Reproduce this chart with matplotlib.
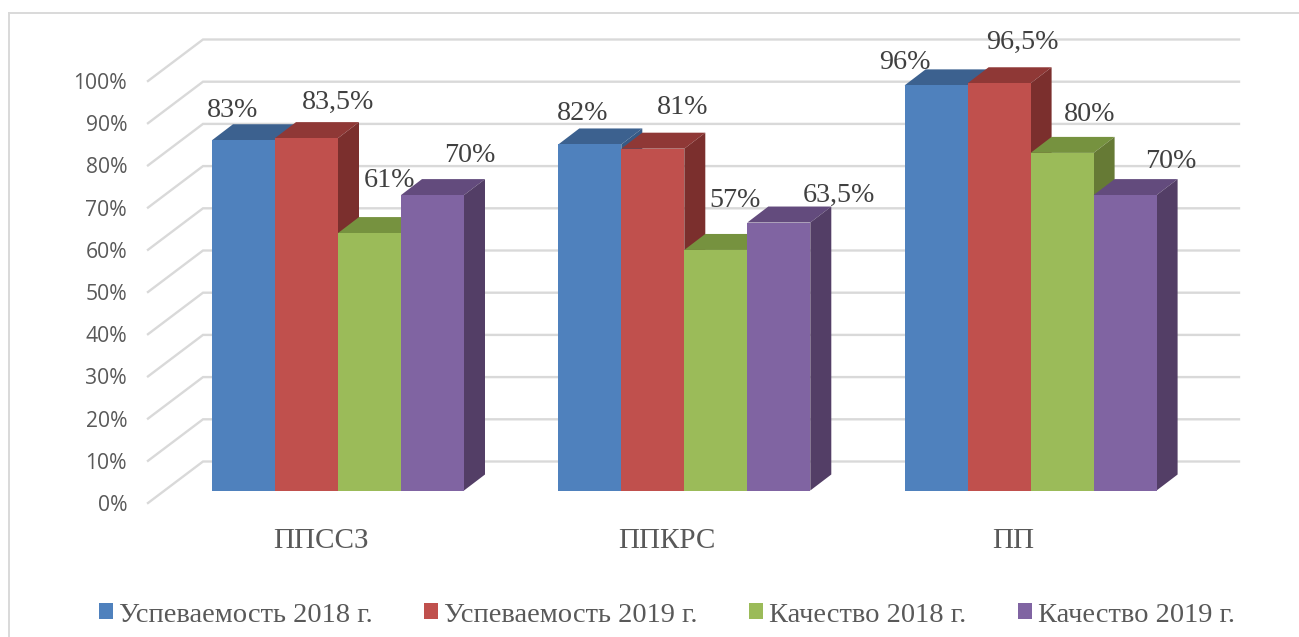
# -*- coding: utf-8 -*-

import matplotlib
matplotlib.use("Agg")
import matplotlib.pyplot as plt
from matplotlib.patches import Polygon, Rectangle

categories = ["ППССЗ", "ППКРС", "ПП"]
series_names = ["Успеваемость 2018 г.", "Успеваемость 2019 г.", "Качество 2018 г.", "Качество 2019 г."]
uspev_2018 = [83, 82, 96]
uspev_2019 = [83.5, 81, 96.5]
kach_2018 = [61, 57, 80]
kach_2019 = [70, 63.5, 70]
value_labels_2018 = ["83%", "82%", "96%"]
value_labels_2019 = ["83,5%", "81%", "96,5%"]
value_labels_k2018 = ["61%", "57%", "80%"]
value_labels_k2019 = ["70%", "63,5%", "70%"]
y_ticks = [0, 10, 20, 30, 40, 50, 60, 70, 80, 90, 100]

# front, top, side colours per series
colors = [("#4F81BD", "#3C618F", "#375A85"),
          ("#C0504D", "#8F3836", "#7B2F2D"),
          ("#9BBB59", "#76923F", "#667A35"),
          ("#8064A2", "#634B7D", "#533E66")]

# hand placed label offsets in pixels from the bar centre top, the source chart has them dragged around
label_offsets = [[(-11, 30), (-7.5, 31), (-31, 23)],
                 [(31.5, 35.6), (29.5, 41), (23, 41)],
                 [(20, 52.6), (19.5, 49.5), (28, 38)],
                 [(37.5, 39.6), (60.5, 27), (46, 33.6)]]

# scale of the picture
GROUP_PX = 346.3
PCT_PX = 4.22
X0_PX = 338
Y0_PX = 490.5
W, H = 1299, 637
px_x = 1 / GROUP_PX
px_y = 1 / PCT_PX
bar_w = 63 * px_x
bar_dx = 21 * px_x
bar_dy = 16 * px_y

fig = plt.figure(figsize=(W / 100, H / 100), dpi=100)
ax = fig.add_axes([0, 0, 1, 1])
ax.set_xlim(-X0_PX * px_x, (W - X0_PX) * px_x)
ax.set_ylim(-(H - Y0_PX) * px_y, Y0_PX * px_y)
ax.axis("off")

# chart frame, cropped on the right and bottom
frame_x = (8.5 - X0_PX) * px_x
frame_y = (Y0_PX - 12.5) * px_y
ax.plot([frame_x, frame_x], [ax.get_ylim()[0], frame_y], color="#D9D9D9", lw=1.4, zorder=1)
ax.plot([frame_x, ax.get_xlim()[1]], [frame_y, frame_y], color="#D9D9D9", lw=1.4, zorder=1)

# walls
front_x = (148 - X0_PX) * px_x
back_x = (203 - X0_PX) * px_x
right_x = (1239 - X0_PX) * px_x
front_dy = -12.5 * px_y
back_dy = 29 * px_y
for v in y_ticks:
    ax.plot([front_x, back_x, right_x], [v + front_dy, v + back_dy, v + back_dy],
            color="#D9D9D9", lw=1.7, zorder=2, solid_joinstyle="miter")
    ax.text((127 - X0_PX) * px_x, v + front_dy - 2.5 * px_y, "%d%%" % v, ha="right", va="center",
            family="Open Sans", fontsize=15.2, color="#595959")

all_series = [uspev_2018, uspev_2019, kach_2018, kach_2019]
all_labels = [value_labels_2018, value_labels_2019, value_labels_k2018, value_labels_k2019]

z = 3
for g in range(len(categories)):
    for s, values in enumerate(all_series):
        v = values[g]
        left = g + (s - 2) * bar_w
        front, top, side = colors[s]
        ax.add_patch(Polygon([(left, v), (left + bar_dx, v + bar_dy), (left + bar_w + bar_dx, v + bar_dy),
                              (left + bar_w, v)], closed=True, fc=top, ec="none", zorder=z))
        ax.add_patch(Polygon([(left + bar_w, 0), (left + bar_w + bar_dx, bar_dy), (left + bar_w + bar_dx, v + bar_dy),
                              (left + bar_w, v)], closed=True, fc=side, ec="none", zorder=z))
        ax.bar(left, v, width=bar_w, align="edge", color=front, zorder=z + 0.5)
        z += 1

for s, values in enumerate(all_series):
    for g, v in enumerate(values):
        ax.annotate(all_labels[s][g], (g + (s - 1.5) * bar_w, v), xytext=label_offsets[s][g],
                    textcoords="offset pixels", ha="center", va="center",
                    family="Liberation Serif", fontsize=20.2, color="#404040", zorder=100)

for g, name in enumerate(categories):
    ax.text(g - 17 * px_x, -50.5 * px_y, name, ha="center", va="center",
            family="Liberation Serif", fontsize=21, color="#595959")

handles = [Rectangle((0, 0), 1, 1, fc=c[0], ec="none") for c in colors]
ax.legend(handles, series_names, loc="center", bbox_to_anchor=(667 / W, 1 - 615 / H), ncol=4, frameon=False,
          prop={"family": "Liberation Serif", "size": 20.5}, labelcolor="#595959",
          handlelength=0.49, handleheight=0.49, handletextpad=0.22, columnspacing=1.8)

fig.savefig("out.png", dpi=100)
